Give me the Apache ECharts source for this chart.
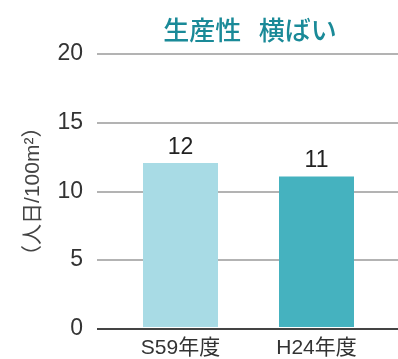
<!DOCTYPE html>
<html>
<head>
<meta charset="utf-8">
<script src="https://cdn.jsdelivr.net/npm/echarts@6/dist/echarts.min.js"></script>
<style>
  html, body { margin: 0; padding: 0; background: #ffffff; }
  #chart { width: 398px; height: 359px; }
</style>
</head>
<body>
<div id="chart"></div>
<script>
// Productivity (person-days per 100 m²) by fiscal year
const categories = ['S59年度', 'H24年度'];
const values = [12, 11];
const barColors = ['#a8dbe5', '#45b2bf'];
const yTicks = { min: 0, max: 20, interval: 5 };

const FONT = '"Liberation Sans", "Noto Sans CJK JP", sans-serif';

const chart = echarts.init(document.getElementById('chart'), null, { renderer: 'canvas' });

chart.setOption({
  animation: false,
  backgroundColor: '#ffffff',
  title: {
    text: '生産性   横ばい',
    left: 245,
    textAlign: 'center',
    top: 12,
    textStyle: { color: '#1a8a98', fontSize: 26, fontWeight: 500, fontFamily: '"Noto Sans CJK JP", sans-serif' }
  },
  grid: [
    // wide grid carrying the y scale and its gridlines
    { left: 97, right: 0, top: 53.5, bottom: 30 },
    // narrower grid holding the bars
    { left: 112.5, right: 13.5, top: 53.5, bottom: 30 }
  ],
  xAxis: [
    { gridIndex: 0, type: 'category', data: categories, show: false },
    {
      gridIndex: 1, type: 'category', data: categories,
      axisLine: { show: false }, axisTick: { show: false },
      axisLabel: { color: '#333', fontSize: 21, margin: 11, fontFamily: FONT }
    }
  ],
  yAxis: [
    {
      gridIndex: 0, type: 'value', min: yTicks.min, max: yTicks.max, interval: yTicks.interval,
      name: '（人日/100m²）',
      nameLocation: 'middle', nameRotate: 90, nameGap: 53,
      nameTextStyle: { color: '#444', fontSize: 21, fontFamily: FONT },
      axisLine: { show: false }, axisTick: { show: false },
      axisLabel: { color: '#333', fontSize: 23, margin: 14, fontFamily: FONT },
      splitLine: { show: true, lineStyle: { color: '#9a9a9a', width: 1.5 } }
    },
    {
      gridIndex: 1, type: 'value', min: yTicks.min, max: yTicks.max, interval: yTicks.interval,
      show: false
    }
  ],
  series: [
    {
      type: 'bar',
      xAxisIndex: 1, yAxisIndex: 1,
      barWidth: 75,
      data: values.map((v, i) => ({ value: v, itemStyle: { color: barColors[i] } })),
      label: {
        show: true, position: 'top', distance: 4,
        color: '#222', fontSize: 23, fontFamily: FONT
      },
      z: 2
    },
    {
      // baseline at zero drawn across the full width
      type: 'line',
      xAxisIndex: 0, yAxisIndex: 0,
      data: [],
      markLine: {
        silent: true, symbol: 'none', label: { show: false },
        lineStyle: { color: '#444', width: 2, type: 'solid' },
        data: [{ yAxis: 0 }]
      },
      z: 3
    }
  ]
});
</script>
</body>
</html>
